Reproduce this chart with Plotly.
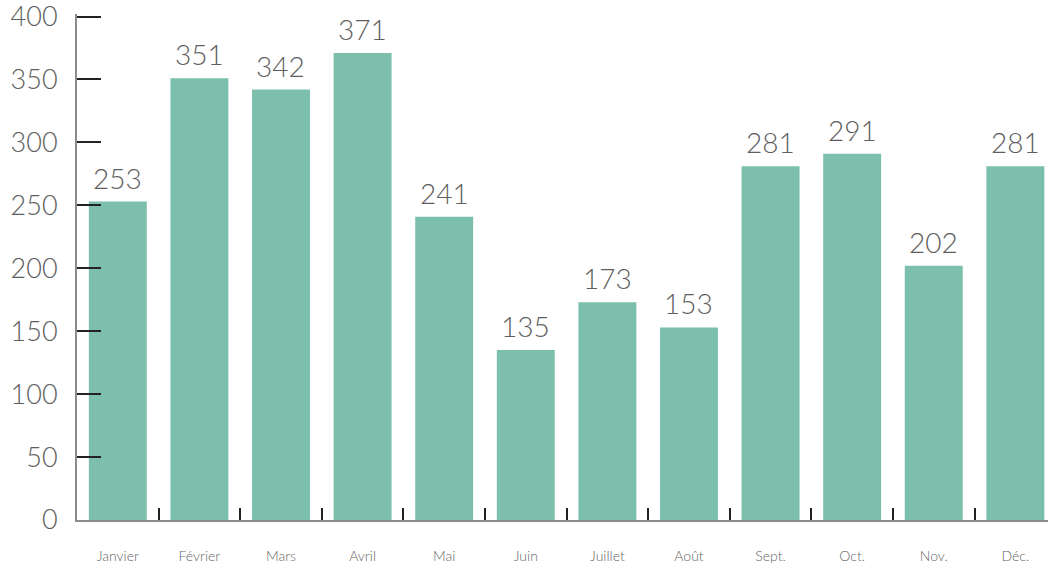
import plotly.graph_objects as go

months = ["Janvier", "Février", "Mars", "Avril", "Mai", "Juin",
          "Juillet", "Août", "Sept.", "Oct.", "Nov.", "Déc."]
values = [253, 351, 342, 371, 241, 135, 173, 153, 281, 291, 202, 281]
y_ticks = [0, 50, 100, 150, 200, 250, 300, 350, 400]

bar_color = "#7bbfac"
text_color = "#5e5e5e"
font_family = "Lato, 'Noto Sans', sans-serif"

fig = go.Figure(go.Bar(
    x=months,
    y=values,
    marker=dict(color=bar_color, line=dict(width=0)),
    cliponaxis=False,
))

# value labels above each bar
for m, v in zip(months, values):
    fig.add_annotation(
        x=m, y=v, text=str(v),
        xanchor="center", yanchor="bottom",
        yshift=5, showarrow=False,
        font=dict(size=28, color=text_color, family=font_family, weight=300),
    )

fig.update_layout(
    width=1048,
    height=567,
    margin=dict(l=77, r=0, t=14, b=47),
    paper_bgcolor="white",
    plot_bgcolor="white",
    bargap=0.29,
    showlegend=False,
    font=dict(family=font_family, color=text_color),
)

fig.update_xaxes(
    type="category",
    range=[-0.5, 11.4],
    showgrid=False,
    showline=True,
    linecolor="#8c8c8c",
    linewidth=2,
    ticks="inside",
    tickson="boundaries",
    ticklen=12,
    tickwidth=2,
    tickcolor="#222222",
    tickfont=dict(size=14, color="#666666", weight=300),
    ticklabelstandoff=22,
    zeroline=False,
)

fig.update_yaxes(
    range=[0, 402],
    tickmode="array",
    tickvals=y_ticks,
    ticktext=[str(v) for v in y_ticks],
    ticklabeloverflow="allow",
    showgrid=False,
    showline=True,
    linecolor="#8c8c8c",
    linewidth=2,
    ticks="inside",
    ticklen=24,
    tickwidth=2,
    tickcolor="#222222",
    tickfont=dict(size=27, color=text_color, weight=300),
    ticklabelstandoff=12,
    zeroline=False,
)

fig.write_html("out.html")
